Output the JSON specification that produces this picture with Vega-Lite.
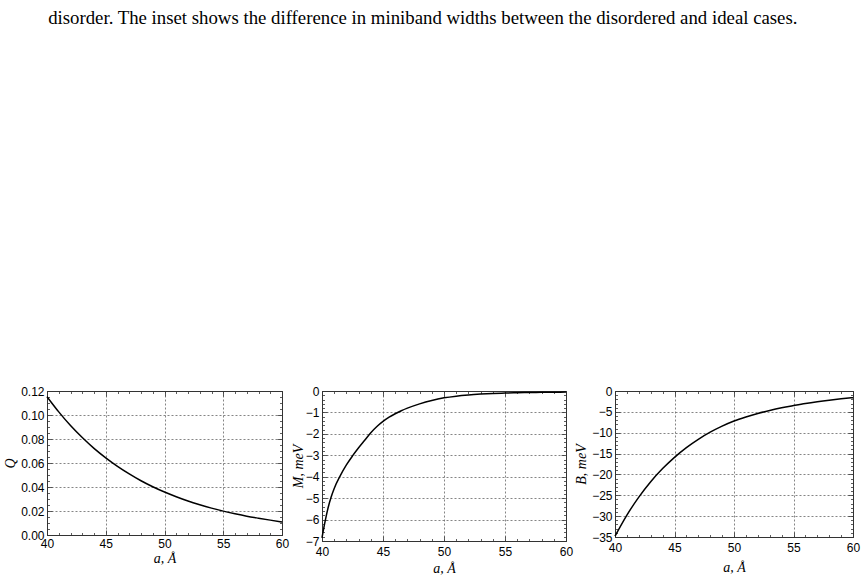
{
  "$schema": "https://vega.github.io/schema/vega-lite/v6.json",
  "padding": {"left": 3, "top": 8, "right": 5, "bottom": 5},
  "title": {"text": "disorder. The inset shows the difference in miniband widths between the disordered and ideal cases.", "anchor": "start", "font": "Liberation Serif", "fontSize": 18.8, "fontWeight": "normal", "color": "black", "dx": 45, "offset": 353},
  "datasets": {
    "q": [
      {"a": 40, "v": 0.1153}, {"a": 41, "v": 0.1026}, {"a": 42, "v": 0.0912}, {"a": 43, "v": 0.0812}, {"a": 44, "v": 0.0722},
      {"a": 45, "v": 0.0643}, {"a": 46, "v": 0.0572}, {"a": 47, "v": 0.0509}, {"a": 48, "v": 0.0452}, {"a": 49, "v": 0.0402},
      {"a": 50, "v": 0.0358}, {"a": 51, "v": 0.0319}, {"a": 52, "v": 0.0283}, {"a": 53, "v": 0.0252}, {"a": 54, "v": 0.0224},
      {"a": 55, "v": 0.0199}, {"a": 56, "v": 0.0177}, {"a": 57, "v": 0.0157}, {"a": 58, "v": 0.014}, {"a": 59, "v": 0.0124},
      {"a": 60, "v": 0.0109}
    ],
    "m": [
      {"a": 40, "v": -6.85}, {"a": 40.25, "v": -6.1}, {"a": 40.5, "v": -5.45}, {"a": 40.75, "v": -4.95}, {"a": 41, "v": -4.55},
      {"a": 41.5, "v": -3.95}, {"a": 42, "v": -3.45}, {"a": 42.5, "v": -3.03}, {"a": 43, "v": -2.65}, {"a": 43.5, "v": -2.3},
      {"a": 44, "v": -1.95}, {"a": 44.5, "v": -1.66}, {"a": 45, "v": -1.42}, {"a": 45.5, "v": -1.22}, {"a": 46, "v": -1.06},
      {"a": 46.5, "v": -0.92}, {"a": 47, "v": -0.8}, {"a": 48, "v": -0.6}, {"a": 49, "v": -0.44}, {"a": 50, "v": -0.32},
      {"a": 51, "v": -0.24}, {"a": 52, "v": -0.185}, {"a": 53, "v": -0.145}, {"a": 54, "v": -0.115}, {"a": 55, "v": -0.095},
      {"a": 56, "v": -0.08}, {"a": 57, "v": -0.07}, {"a": 58, "v": -0.062}, {"a": 59, "v": -0.056}, {"a": 60, "v": -0.05}
    ],
    "b": [
      {"a": 40, "v": -34.8}, {"a": 41, "v": -29.75}, {"a": 42, "v": -25.44}, {"a": 43, "v": -21.75}, {"a": 44, "v": -18.6},
      {"a": 45, "v": -15.9}, {"a": 46, "v": -13.57}, {"a": 47, "v": -11.58}, {"a": 48, "v": -9.88}, {"a": 49, "v": -8.43},
      {"a": 50, "v": -7.2}, {"a": 51, "v": -6.23}, {"a": 52, "v": -5.39}, {"a": 53, "v": -4.67}, {"a": 54, "v": -4.04},
      {"a": 55, "v": -3.5}, {"a": 56, "v": -2.99}, {"a": 57, "v": -2.56}, {"a": 58, "v": -2.19}, {"a": 59, "v": -1.87},
      {"a": 60, "v": -1.6}
    ]
  },
  "spacing": 0,
  "hconcat": [
    {
      "width": 235, "height": 144,
      "data": {"name": "q"},
      "resolve": {"axis": {"x": "independent", "y": "independent"}},
      "layer": [
        {
          "mark": {"type": "line", "color": "black", "strokeWidth": 1.5, "interpolate": "monotone"},
          "encoding": {
            "x": {"field": "a", "type": "quantitative", "scale": {"domain": [40, 60], "nice": false, "zero": false},
              "axis": {"title": "a, Å", "values": [40,41,42,43,44,45,46,47,48,49,50,51,52,53,54,55,56,57,58,59,60],
                "labelExpr": "datum.value % 5 === 0 ? datum.label : ''",
                "tickSize": {"condition": {"test": "datum.value % 5 === 0", "value": -5}, "value": -2.5},
                "gridOpacity": {"condition": {"test": "datum.value % 5 === 0", "value": 1}, "value": 0},
                "labelPadding": 8, "titlePadding": 0}},
            "y": {"field": "v", "type": "quantitative", "scale": {"domain": [0, 0.12], "nice": false, "zero": false},
              "axis": {"title": "Q", "format": ".2f",
                "values": [0,0.005,0.01,0.015,0.02,0.025,0.03,0.035,0.04,0.045,0.05,0.055,0.06,0.065,0.07,0.075,0.08,0.085,0.09,0.095,0.1,0.105,0.11,0.115,0.12],
                "labelExpr": "abs(datum.value*50 - round(datum.value*50)) < 1e-6 ? datum.label : ''",
                "tickSize": {"condition": {"test": "abs(datum.value*50 - round(datum.value*50)) < 1e-6", "value": -5}, "value": -2.5},
                "gridOpacity": {"condition": {"test": "abs(datum.value*50 - round(datum.value*50)) < 1e-6", "value": 1}, "value": 0},
                "labelPadding": 8, "titlePadding": 3}}
          }
        },
        {
          "mark": {"type": "line", "opacity": 0},
          "encoding": {
            "x": {"field": "a", "type": "quantitative",
              "axis": {"orient": "top", "title": null, "labels": false, "grid": false, "values": [40,41,42,43,44,45,46,47,48,49,50,51,52,53,54,55,56,57,58,59,60],
                "tickSize": {"condition": {"test": "datum.value % 5 === 0", "value": -5}, "value": -2.5}}},
            "y": {"field": "v", "type": "quantitative",
              "axis": {"orient": "right", "title": null, "labels": false, "grid": false,
                "values": [0,0.005,0.01,0.015,0.02,0.025,0.03,0.035,0.04,0.045,0.05,0.055,0.06,0.065,0.07,0.075,0.08,0.085,0.09,0.095,0.1,0.105,0.11,0.115,0.12],
                "tickSize": {"condition": {"test": "abs(datum.value*50 - round(datum.value*50)) < 1e-6", "value": -5}, "value": -2.5}}}
          }
        }
      ]
    },
    {
      "width": 244, "height": 150,
      "data": {"name": "m"},
      "resolve": {"axis": {"x": "independent", "y": "independent"}},
      "layer": [
        {
          "mark": {"type": "line", "color": "black", "strokeWidth": 1.5, "interpolate": "monotone"},
          "encoding": {
            "x": {"field": "a", "type": "quantitative", "scale": {"domain": [40, 60], "nice": false, "zero": false},
              "axis": {"title": "a, Å", "values": [40,41,42,43,44,45,46,47,48,49,50,51,52,53,54,55,56,57,58,59,60],
                "labelExpr": "datum.value % 5 === 0 ? datum.label : ''",
                "tickSize": {"condition": {"test": "datum.value % 5 === 0", "value": -5}, "value": -2.5},
                "gridOpacity": {"condition": {"test": "datum.value % 5 === 0", "value": 1}, "value": 0},
                "labelPadding": 10, "titlePadding": 2}},
            "y": {"field": "v", "type": "quantitative", "scale": {"domain": [-7, 0], "nice": false, "zero": false},
              "axis": {"title": "M, meV", "format": ".0f",
                "values": [-7,-6.8,-6.6,-6.4,-6.2,-6,-5.8,-5.6,-5.4,-5.2,-5,-4.8,-4.6,-4.4,-4.2,-4,-3.8,-3.6,-3.4,-3.2,-3,-2.8,-2.6,-2.4,-2.2,-2,-1.8,-1.6,-1.4,-1.2,-1,-0.8,-0.6,-0.4,-0.2,0],
                "labelExpr": "abs(datum.value - round(datum.value)) < 1e-6 ? datum.label : ''",
                "tickSize": {"condition": {"test": "abs(datum.value - round(datum.value)) < 1e-6", "value": -5}, "value": -2.5},
                "gridOpacity": {"condition": {"test": "abs(datum.value - round(datum.value)) < 1e-6", "value": 1}, "value": 0},
                "labelPadding": 8, "titlePadding": 0}}
          }
        },
        {
          "mark": {"type": "line", "opacity": 0},
          "encoding": {
            "x": {"field": "a", "type": "quantitative",
              "axis": {"orient": "top", "title": null, "labels": false, "grid": false, "values": [40,41,42,43,44,45,46,47,48,49,50,51,52,53,54,55,56,57,58,59,60],
                "tickSize": {"condition": {"test": "datum.value % 5 === 0", "value": -5}, "value": -2.5}}},
            "y": {"field": "v", "type": "quantitative",
              "axis": {"orient": "right", "title": null, "labels": false, "grid": false,
                "values": [-7,-6.8,-6.6,-6.4,-6.2,-6,-5.8,-5.6,-5.4,-5.2,-5,-4.8,-4.6,-4.4,-4.2,-4,-3.8,-3.6,-3.4,-3.2,-3,-2.8,-2.6,-2.4,-2.2,-2,-1.8,-1.6,-1.4,-1.2,-1,-0.8,-0.6,-0.4,-0.2,0],
                "tickSize": {"condition": {"test": "abs(datum.value - round(datum.value)) < 1e-6", "value": -5}, "value": -2.5}}}
          }
        }
      ]
    },
    {
      "width": 238, "height": 146,
      "title": {"text": " ", "fontSize": 4, "offset": 0},
      "data": {"name": "b"},
      "resolve": {"axis": {"x": "independent", "y": "independent"}},
      "layer": [
        {
          "mark": {"type": "line", "color": "black", "strokeWidth": 1.5, "interpolate": "monotone"},
          "encoding": {
            "x": {"field": "a", "type": "quantitative", "scale": {"domain": [40, 60], "nice": false, "zero": false},
              "axis": {"title": "a, Å", "values": [40,41,42,43,44,45,46,47,48,49,50,51,52,53,54,55,56,57,58,59,60],
                "labelExpr": "datum.value % 5 === 0 ? datum.label : ''",
                "tickSize": {"condition": {"test": "datum.value % 5 === 0", "value": -5}, "value": -2.5},
                "gridOpacity": {"condition": {"test": "datum.value % 5 === 0", "value": 1}, "value": 0},
                "labelPadding": 10, "titlePadding": 5}},
            "y": {"field": "v", "type": "quantitative", "scale": {"domain": [-35, 0], "nice": false, "zero": false},
              "axis": {"title": "B, meV", "format": ".0f",
                "values": [-35,-34,-33,-32,-31,-30,-29,-28,-27,-26,-25,-24,-23,-22,-21,-20,-19,-18,-17,-16,-15,-14,-13,-12,-11,-10,-9,-8,-7,-6,-5,-4,-3,-2,-1,0],
                "labelExpr": "datum.value % 5 === 0 ? datum.label : ''",
                "tickSize": {"condition": {"test": "datum.value % 5 === 0", "value": -5}, "value": -2.5},
                "gridOpacity": {"condition": {"test": "datum.value % 5 === 0", "value": 1}, "value": 0},
                "labelPadding": 8, "titlePadding": 3}}
          }
        },
        {
          "mark": {"type": "line", "opacity": 0},
          "encoding": {
            "x": {"field": "a", "type": "quantitative",
              "axis": {"orient": "top", "title": null, "labels": false, "grid": false, "values": [40,41,42,43,44,45,46,47,48,49,50,51,52,53,54,55,56,57,58,59,60],
                "tickSize": {"condition": {"test": "datum.value % 5 === 0", "value": -5}, "value": -2.5}}},
            "y": {"field": "v", "type": "quantitative",
              "axis": {"orient": "right", "title": null, "labels": false, "grid": false,
                "values": [-35,-34,-33,-32,-31,-30,-29,-28,-27,-26,-25,-24,-23,-22,-21,-20,-19,-18,-17,-16,-15,-14,-13,-12,-11,-10,-9,-8,-7,-6,-5,-4,-3,-2,-1,0],
                "tickSize": {"condition": {"test": "datum.value % 5 === 0", "value": -5}, "value": -2.5}}}
          }
        }
      ]
    }
  ],
  "config": {
    "background": "white",
    "view": {"stroke": "#333", "strokeWidth": 1},
    "axis": {
      "labelFont": "Liberation Sans", "labelFontSize": 12, "labelColor": "black", "labelFlush": false, "labelOverlap": false,
      "titleFont": "Liberation Serif", "titleFontStyle": "italic", "titleFontWeight": "normal", "titleFontSize": 14, "titleColor": "black",
      "domainColor": "#333", "tickColor": "#333", "tickWidth": 0.8,
      "gridColor": "#666", "gridDash": [2, 2], "gridWidth": 0.8
    }
  }
}
